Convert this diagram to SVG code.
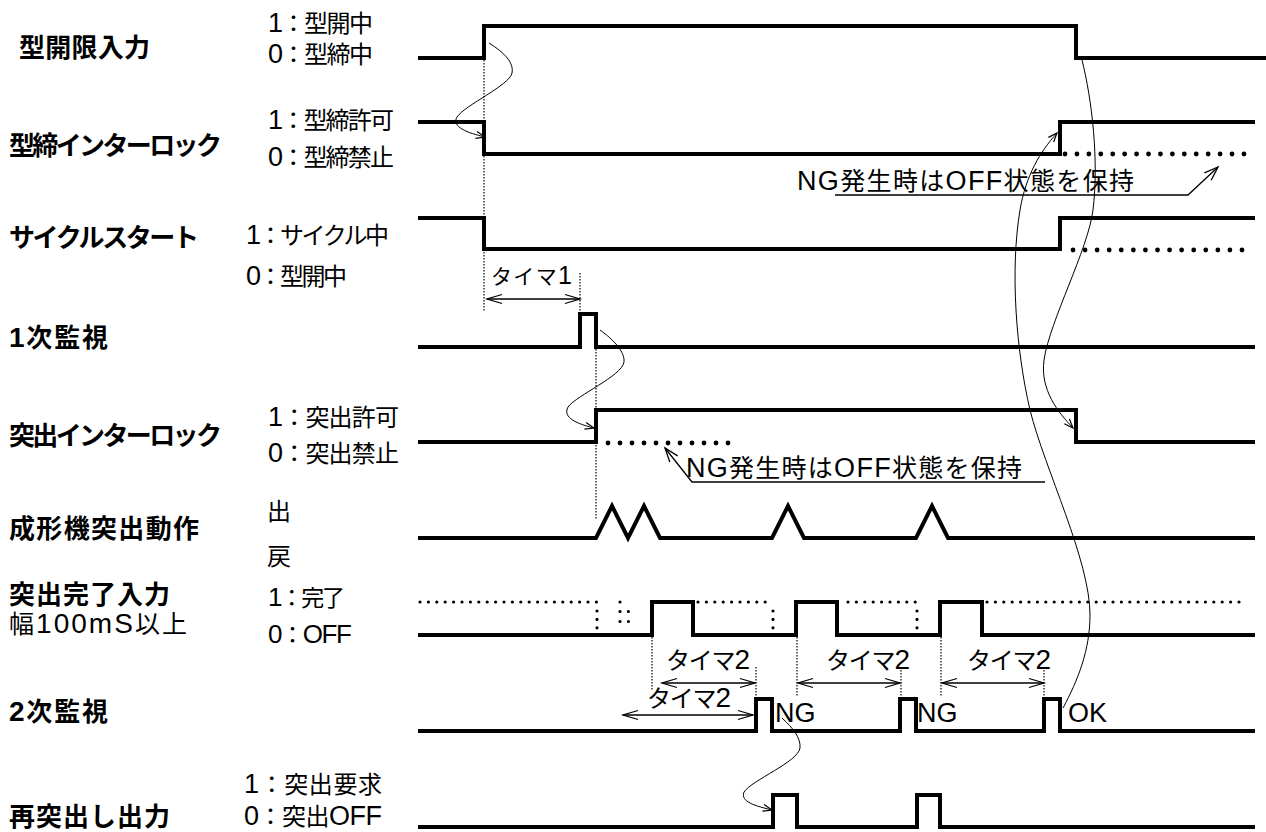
<svg xmlns="http://www.w3.org/2000/svg" width="1266" height="832" viewBox="0 0 1266 832">
<style>
.lb{font-family:"Liberation Sans","Noto Sans CJK JP",sans-serif;font-weight:bold;font-size:26px;fill:#000}
.st{font-family:"Liberation Sans","Noto Sans CJK JP",sans-serif;font-size:24px;fill:#000}
.tm{font-family:"Liberation Sans","Noto Sans CJK JP",sans-serif;font-size:24px;fill:#000}
.ng{font-family:"Liberation Sans","Noto Sans CJK JP",sans-serif;font-size:27px;fill:#000}
.co{font-family:"Liberation Sans","Noto Sans CJK JP",sans-serif;font-size:25px;fill:#000}
.L{font-size:27px}
.w{fill:none;stroke:#000;stroke-width:4;stroke-linejoin:miter;stroke-linecap:square}
.hd{fill:none;stroke:#000;stroke-width:4.8;stroke-linecap:round}
.sd{fill:none;stroke:#000;stroke-width:3.2;stroke-linecap:round;stroke-dasharray:0 8.4}
.fd{fill:none;stroke:#000;stroke-width:1.2;stroke-dasharray:1.5 1.5}
.cv{fill:none;stroke:#000;stroke-width:1}
.ar{fill:none;stroke:#000;stroke-width:1.3}
</style>
<defs>
<marker id="dh" markerUnits="userSpaceOnUse" markerWidth="16" markerHeight="10" refX="15" refY="4.5" orient="auto-start-reverse" overflow="visible">
<path d="M0,0 L15,4.5 L0,9" fill="none" stroke="#000" stroke-width="1.3"/>
</marker>
<marker id="ch" markerUnits="userSpaceOnUse" markerWidth="10" markerHeight="8" refX="9" refY="3.5" orient="auto" overflow="visible">
<path d="M0,0 L9,3.5 L0,7" fill="none" stroke="#000" stroke-width="1.2"/>
</marker>
<marker id="lh" markerUnits="userSpaceOnUse" markerWidth="15" markerHeight="11" refX="14" refY="5" orient="auto" overflow="visible">
<path d="M0,0 L14,5 L0,10" fill="none" stroke="#000" stroke-width="1.3"/>
</marker>
</defs>
<rect width="1266" height="832" fill="#fff"/>

<g id="sig1">
<text class="lb" x="19" y="57" textLength="131">型開限入力</text>
<text class="st" x="268" y="32" textLength="105"><tspan class="L">1</tspan>：型開中</text>
<text class="st" x="268" y="63" textLength="105"><tspan class="L">0</tspan>：型締中</text>
<path class="w" d="M420,58 H484 V26 H1076 V58 H1264"/>
</g>

<g id="sig2">
<text class="lb" x="9" y="155" textLength="213">型締インターロック</text>
<text class="st" x="268" y="129" textLength="126"><tspan class="L">1</tspan>：型締許可</text>
<text class="st" x="268" y="166" textLength="126"><tspan class="L">0</tspan>：型締禁止</text>
<path class="w" d="M420,122 H484 V154 H1060 V122 H1253"/>
<path class="hd" style="stroke-dasharray:0 11.93" d="M1065,154 H1244"/>
</g>

<g id="sig3">
<text class="lb" x="9" y="247" textLength="190">サイクルスタート</text>
<text class="st" x="246" y="244" textLength="143"><tspan class="L">1</tspan>：サイクル中</text>
<text class="st" x="246" y="285" textLength="101"><tspan class="L">0</tspan>：型開中</text>
<path class="w" d="M420,218 H484 V249 H1060 V218 H1253"/>
<path class="hd" style="stroke-dasharray:0 12.07" d="M1073,250 H1242"/>
</g>

<g id="sig4">
<text class="lb" x="9" y="347" textLength="99"><tspan style="font-size:28px">1</tspan>次監視</text>
<path class="w" d="M420,347 H580 V314 H596 V347 H1253"/>
</g>

<g id="sig5">
<text class="lb" x="9" y="445" textLength="213">突出インターロック</text>
<text class="st" x="268" y="426" textLength="131"><tspan class="L">1</tspan>：突出許可</text>
<text class="st" x="268" y="462" textLength="131"><tspan class="L">0</tspan>：突出禁止</text>
<path class="w" d="M420,442 H596 V410 H1076 V442 H1253"/>
<path class="hd" style="stroke-dasharray:0 12" d="M608,443 H740"/>
</g>

<g id="sig6">
<text class="lb" x="9" y="538" textLength="190">成形機突出動作</text>
<text class="st" x="267" y="520">出</text>
<text class="st" x="267" y="565">戻</text>
<path class="w" d="M420,538 H596 L612,506 L628,538 L644,506 L660,538 H772 L788,506 L804,538 H916 L932,506 L948,538 H1253"/>
</g>

<g id="sig7">
<text class="lb" x="9" y="604" textLength="161">突出完了入力</text>
<text class="st" x="9" y="633" style="font-size:25px" textLength="178">幅<tspan style="font-size:28px">100mS</tspan>以上</text>
<text class="st" x="268" y="606" style="font-size:23px" textLength="77"><tspan style="font-size:26px">1</tspan>：完了</text>
<text class="st" x="268" y="643" style="font-size:23px" textLength="84"><tspan style="font-size:26px">0</tspan>：<tspan style="font-size:26px">OFF</tspan></text>
<path class="w" d="M420,635 H652 V602 H693 V635 H796 V602 H837 V635 H940 V602 H982 V635 H1253"/>
<path class="sd" d="M420,602 H597 M597,611 V629 M620,602 V603 M620,611.5 H628.5 M620,621.5 H628.5"/>
<path class="sd" d="M698,602 H773 M773,611 V629"/>
<path class="sd" d="M848,602 H917 M917,611 V629"/>
<path class="sd" d="M987,602 H1246"/>
</g>

<g id="sig8">
<text class="lb" x="9" y="721" textLength="99"><tspan style="font-size:28px">2</tspan>次監視</text>
<path class="w" d="M420,731 H756 V699 H772 V731 H900 V699 H916 V731 H1044 V699 H1060 V731 H1253"/>
<text class="ng" x="775" y="722">NG</text>
<text class="ng" x="917" y="722">NG</text>
<text class="ng" x="1068" y="722">OK</text>
</g>

<g id="sig9">
<text class="lb" x="9" y="826" textLength="161">再突出し出力</text>
<text class="st" x="244" y="793" textLength="138"><tspan class="L">1</tspan>：突出要求</text>
<text class="st" x="244" y="825" textLength="138"><tspan class="L">0</tspan>：突出<tspan class="L">OFF</tspan></text>
<path class="w" d="M420,827 H773 V795 H797 V827 H917 V795 H940 V827 H1253"/>
</g>

<g id="timers">
<path class="fd" d="M484,60 V312 M580,273 V314"/>
<path class="fd" d="M596,349 V520"/>
<path class="fd" d="M652,637 V690 M756,667 V697 M797,637 V697 M901,667 V697 M941,637 V697 M1044,667 V697"/>
<text class="tm" x="491" y="284" style="font-size:21px" textLength="81">タイマ<tspan style="font-size:25px">1</tspan></text>
<text class="tm" x="666" y="669" textLength="84">タイマ<tspan style="font-size:28px">2</tspan></text>
<text class="tm" x="647" y="707" textLength="84">タイマ<tspan style="font-size:28px">2</tspan></text>
<text class="tm" x="826" y="669" textLength="84">タイマ<tspan style="font-size:28px">2</tspan></text>
<text class="tm" x="967" y="669" textLength="84">タイマ<tspan style="font-size:28px">2</tspan></text>
</g>

<g id="notes">
<text class="co" x="797" y="190" textLength="337"><tspan class="L">NG</tspan>発生時は<tspan class="L">OFF</tspan>状態を保持</text>
<text class="co" x="686" y="477" textLength="336"><tspan class="L">NG</tspan>発生時は<tspan class="L">OFF</tspan>状態を保持</text>
</g>

<g id="connectors">
<path class="ar" marker-start="url(#dh)" marker-end="url(#dh)" d="M487,299 H580"/>
<path class="ar" marker-start="url(#dh)" marker-end="url(#dh)" d="M662,683 H755"/>
<path class="ar" marker-start="url(#dh)" marker-end="url(#dh)" d="M623,715 H753"/>
<path class="ar" marker-start="url(#dh)" marker-end="url(#dh)" d="M798,683 H900"/>
<path class="ar" marker-start="url(#dh)" marker-end="url(#dh)" d="M942,683 H1044"/>
<path class="ar" marker-end="url(#lh)" d="M835,195 H1188 L1218,167"/>
<path class="ar" marker-end="url(#lh)" d="M1045,482 H692 L665,448"/>
<path class="cv" marker-end="url(#ch)" d="M489,43 C505,53 514,63 512,73 C510,85 465,105 457,117 C451,127 468,133 485,137"/>
<path class="cv" marker-end="url(#ch)" d="M600,330 C614,340 625,352 624,362 C622,376 577,395 568,407 C562,418 578,424 594,428"/>
<path class="cv" marker-end="url(#ch)" d="M782,718 C793,728 801,738 800,748 C798,762 752,780 744,792 C740,802 756,806 772,810"/>
<path class="cv" marker-end="url(#ch)" d="M1063,708 C1078,680 1090,650 1090,615 C1090,560 1045,470 1030,410 C1016,350 1010,270 1020,210 C1026,175 1040,152 1057,133"/>
<path class="cv" marker-end="url(#ch)" d="M1082,60 C1092,100 1099,160 1093,210 C1088,250 1050,320 1044,360 C1040,390 1058,412 1073,428"/>
</g>
</svg>
